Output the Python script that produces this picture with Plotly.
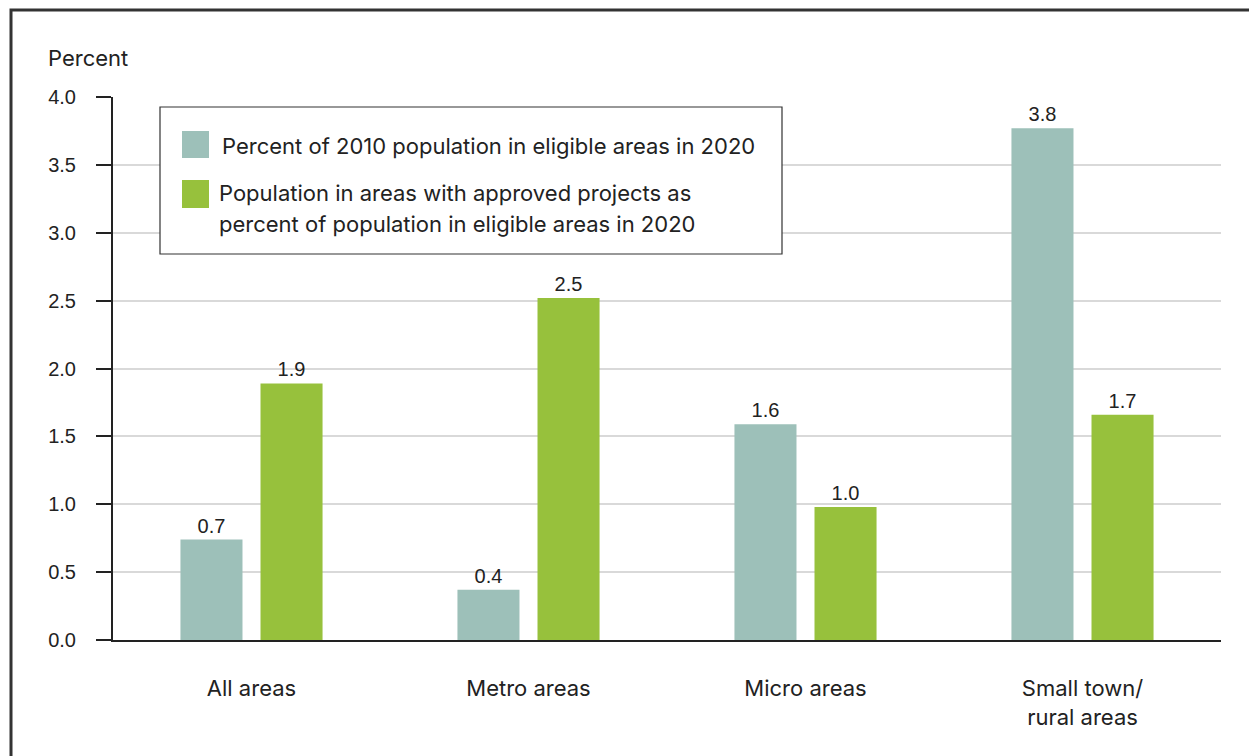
import plotly.graph_objects as go

categories = ["All areas", "Metro areas", "Micro areas", "Small town/<br>rural areas"]
series_names = [
    "Percent of 2010 population in eligible areas in 2020",
    "Population in areas with approved projects as<br>percent of population in eligible areas in 2020",
]
eligible_pct = [0.74, 0.37, 1.59, 3.77]
approved_pct = [1.89, 2.52, 0.98, 1.66]
y_ticks = [0.0, 0.5, 1.0, 1.5, 2.0, 2.5, 3.0, 3.5, 4.0]

TEAL = "#9DC0B9"
GREEN = "#97C13C"
DARK = "#222222"
NUMFONT = "Liberation Sans, Arial, sans-serif"
TXTFONT = "Inter, Roboto, sans-serif"
TXTSIZE = 22

W, H = 1249, 756
L, R, T, B = 113, 28, 97, 116
PW, PH = W - L - R, H - T - B

def px(x):
    return (x - L) / PW

def py(y):
    return 1 - (y - T) / PH

fig = go.Figure()
for vals, col in [(eligible_pct, TEAL), (approved_pct, GREEN)]:
    fig.add_trace(go.Bar(
        x=categories, y=vals, marker=dict(color=col, line=dict(width=0)),
        texttemplate="%{y:.1f}", textposition="outside", cliponaxis=False,
        textfont=dict(family=NUMFONT, size=20, color=DARK),
        showlegend=False, hoverinfo="skip",
    ))

shapes = [
    # outer frame
    dict(type="rect", xref="paper", yref="paper", x0=px(11), x1=px(1300), y0=py(800), y1=py(10),
         line=dict(color="#333333", width=3), fillcolor="rgba(0,0,0,0)", layer="above"),
    # legend box
    dict(type="rect", xref="paper", yref="paper", x0=px(160), x1=px(782), y0=py(254), y1=py(107),
         line=dict(color="#333333", width=1.2), fillcolor="white", layer="above"),
    dict(type="rect", xref="paper", yref="paper", x0=px(182), x1=px(209), y0=py(158), y1=py(131),
         line=dict(width=0), fillcolor=TEAL, layer="above"),
    dict(type="rect", xref="paper", yref="paper", x0=px(182), x1=px(209), y0=py(208), y1=py(180),
         line=dict(width=0), fillcolor=GREEN, layer="above"),
]

annotations = [
    dict(text="Percent", xref="paper", yref="paper", x=px(46), y=py(58), xanchor="left", yanchor="middle",
         showarrow=False, font=dict(family=TXTFONT, size=TXTSIZE, color=DARK)),
    dict(text=series_names[0], xref="paper", yref="paper", x=px(220), y=py(146), xanchor="left", yanchor="middle",
         showarrow=False, align="left", font=dict(family=TXTFONT, size=TXTSIZE, color=DARK)),
]
for i, line in enumerate(series_names[1].split("<br>")):
    annotations.append(dict(text=line, xref="paper", yref="paper", x=px(217), y=py(193 + 31 * i),
                            xanchor="left", yanchor="middle", showarrow=False, align="left",
                            font=dict(family=TXTFONT, size=TXTSIZE, color=DARK)))

fig.update_layout(
    width=W, height=H, margin=dict(l=L, r=R, t=T, b=B, autoexpand=False),
    paper_bgcolor="white", plot_bgcolor="white",
    barmode="group", bargap=0.422, bargroupgap=0.225,
    shapes=shapes, annotations=annotations,
)
fig.update_xaxes(
    showline=True, linecolor=DARK, linewidth=2, ticks="", showgrid=False,
    tickfont=dict(family=TXTFONT, size=TXTSIZE, color=DARK), ticklabelstandoff=28,
)
fig.update_yaxes(
    range=[0, 4], tickvals=y_ticks, tickformat=".1f",
    showline=True, linecolor=DARK, linewidth=2, ticks="outside", ticklen=15, tickcolor=DARK, tickwidth=2,
    showgrid=True, gridcolor="#d9d9d9", gridwidth=1.5, zeroline=False,
    tickfont=dict(family=NUMFONT, size=20, color=DARK), ticklabelstandoff=16,
)

fig.write_html("out.html", config={"displayModeBar": False},
               post_script="document.body.style.margin='0';")
